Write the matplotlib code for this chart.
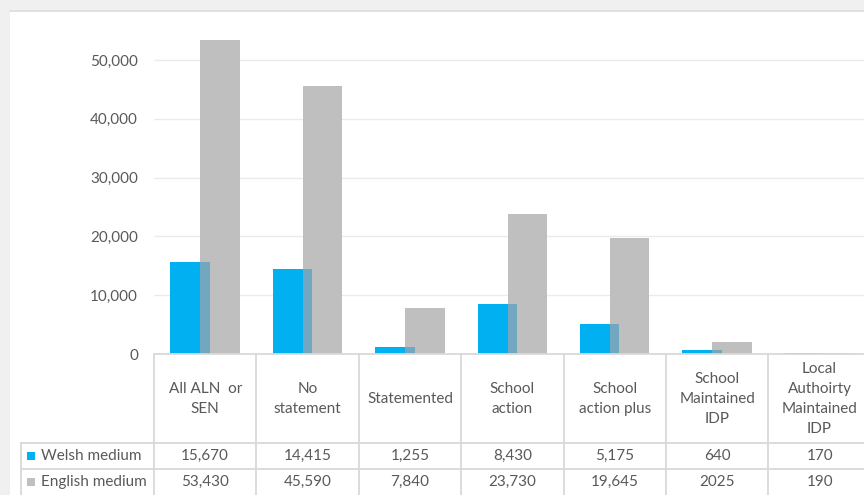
import matplotlib
matplotlib.use("Agg")
import matplotlib.pyplot as plt
from matplotlib.patches import Rectangle
from matplotlib.lines import Line2D
import numpy as np

plt.rcParams['font.family'] = ['Lato', 'DejaVu Sans']

categories = ["All ALN  or\nSEN", "No\nstatement", "Statemented", "School\naction",
              "School\naction plus", "School\nMaintained\nIDP", "Local\nAuthoirty\nMaintained\nIDP"]
series_names = ["Welsh medium", "English medium"]
welsh = [15670, 14415, 1255, 8430, 5175, 640, 170]
english = [53430, 45590, 7840, 23730, 19645, 2025, 190]
welsh_labels = ["15,670", "14,415", "1,255", "8,430", "5,175", "640", "170"]
english_labels = ["53,430", "45,590", "7,840", "23,730", "19,645", "2025", "190"]
yticks = [0, 10000, 20000, 30000, 40000, 50000]
ytick_labels = ["0", "10,000", "20,000", "30,000", "40,000", "50,000"]

W, H = 864, 495
BLUE = '#00B0F0'
GREY = '#BFBFBF'
OVER = '#72A8BF'
TXT = '#595959'
LINE = '#D9D9D9'
FS = 11.0

fig = plt.figure(figsize=(W / 100, H / 100), dpi=100, facecolor='#F0F0F0')

# white chart panel
fig.patches.append(Rectangle((10 / W, 0), 1, (H - 10) / H, transform=fig.transFigure,
                             facecolor='white', edgecolor='none', zorder=-10))
fig.lines.append(Line2D([10 / W, 1], [(H - 10.5) / H] * 2, transform=fig.transFigure,
                        color='#DCDCDC', lw=1.2, zorder=-9))

# plot area geometry (pixels)
x0 = 154.0
colw = 102.4
y0 = 354.0
px_per_unit = 294.0 / 50000
ytop_px = 19.0
ymax = (y0 - ytop_px) / px_per_unit
ncat = len(categories)
left = x0 / W
width = ncat * colw / W

ax = fig.add_axes([left, (H - y0) / H, width, (y0 - ytop_px) / H])
ax.set_facecolor('none')
x = np.arange(ncat)
ax.set_xlim(-0.5, ncat - 0.5)
ax.set_ylim(0, ymax)
bw = 0.384
gbars = ax.bar(x + 0.145, english, width=bw, color=GREY, zorder=2)
wbars = ax.bar(x - 0.148, welsh, width=bw, color=BLUE, zorder=3)
obars = ax.bar(x + 0.145, english, width=bw, color=OVER, zorder=4)
for ob, wb in zip(obars, wbars):
    ob.set_clip_path(wb)

ax.set_yticks(yticks)
ax.set_yticklabels(ytick_labels, color=TXT, fontsize=FS)
ax.tick_params(axis='y', length=0, pad=11.5)
ax.set_xticks([])
ax.grid(axis='y', color='#EBEBEB', lw=1.0, zorder=0)
ax.set_axisbelow(True)
for s in ['top', 'right', 'left']:
    ax.spines[s].set_visible(False)
ax.spines['bottom'].set_color(LINE)
ax.spines['bottom'].set_linewidth(1.3)
ax.spines['bottom'].set_zorder(5)

# data table
tab_h = H - y0
tax = fig.add_axes([left, 0, width, tab_h / H])
tax.set_xlim(-0.5, ncat - 0.5)
tax.set_ylim(tab_h, 0)
tax.axis('off')
hdr = 89.0
row = 26.0
left_x = -0.5 - (x0 - 21) / colw
for i in range(ncat + 1):
    tax.plot([i - 0.5, i - 0.5], [0, tab_h + 5], color=LINE, lw=1.3, clip_on=False)
tax.plot([left_x, left_x], [hdr, tab_h + 5], color=LINE, lw=1.3, clip_on=False)
for yy in [hdr, hdr + row]:
    tax.plot([left_x, ncat], [yy, yy], color=LINE, lw=1.3, clip_on=False)

for i, c in enumerate(categories):
    tax.text(i, hdr / 2 + 0.5, c, ha='center', va='center', color=TXT, fontsize=FS,
             linespacing=1.55, clip_on=False)
for r, (labels, col, name) in enumerate([(welsh_labels, BLUE, series_names[0]),
                                         (english_labels, GREY, series_names[1])]):
    yc = hdr + row * r + row / 2
    for i, lab in enumerate(labels):
        tax.text(i, yc, lab, ha='center', va='center', color=TXT, fontsize=FS, clip_on=False)
    kx = left_x + 6.5 / colw
    tax.add_patch(Rectangle((kx, yc - 4), 8 / colw, 8, facecolor=col, edgecolor='none',
                            clip_on=False))
    tax.text(left_x + 20 / colw, yc, name, ha='left', va='center', color=TXT, fontsize=FS,
             clip_on=False)

fig.savefig('out.png', dpi=100, facecolor=fig.get_facecolor())
